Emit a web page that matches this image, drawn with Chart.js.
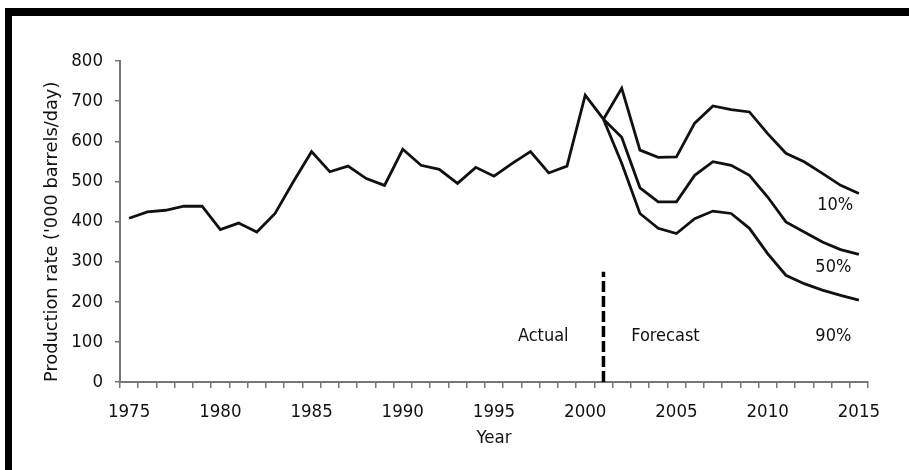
<!DOCTYPE html>
<html>
<head>
<meta charset="utf-8">
<title>Production rate forecast</title>
<script src="https://cdn.jsdelivr.net/npm/chart.js@4.4.1/dist/chart.umd.min.js"></script>
<style>
    html, body { margin: 0; padding: 0; background: #fff; }
    .frame { position: absolute; left: 0; top: 0; width: 909px; height: 470px; overflow: hidden; }
    .bar-top { position: absolute; left: 5px; top: 8px; width: 904px; height: 8px; background: #000; }
    .bar-left { position: absolute; left: 5px; top: 8px; width: 7px; height: 462px; background: #000; }
    #chart { position: absolute; left: 0; top: 0; }
</style>
</head>
<body>
<div class="frame">
    <canvas id="chart" width="909" height="470"></canvas>
    <div class="bar-top"></div>
    <div class="bar-left"></div>
</div>
<script>
// Data
const years = ['1975', '1976', '1977', '1978', '1979', '1980', '1981', '1982', '1983', '1984',
    '1985', '1986', '1987', '1988', '1989', '1990', '1991', '1992', '1993', '1994',
    '1995', '1996', '1997', '1998', '1999', '2000', '2001', '2002', '2003', '2004',
    '2005', '2006', '2007', '2008', '2009', '2010', '2011', '2012', '2013', '2014', '2015'];

// Actual production, 1975-2001
const actual = [408, 424, 428, 438, 438, 380, 396, 374, 420, 499,
    574, 524, 538, 507, 490, 580, 540, 530, 495, 535,
    513, 545, 574, 521, 538, 715, 655];

// Forecasts, 2001-2015
const forecast10 = [655, 732, 578, 560, 561, 645, 688, 679, 673, 619, 570, 549, 520, 490, 470];
const forecast50 = [655, 610, 484, 449, 449, 515, 549, 540, 515, 461, 399, 374, 349, 330, 318];
const forecast90 = [655, 545, 420, 383, 370, 407, 426, 420, 383, 320, 266, 245, 229, 216, 204];

const yTicks = [0, 100, 200, 300, 400, 500, 600, 700, 800];

// Text notes inside the plot (year position, value position)
const noteLabels = ['Actual', 'Forecast', '10%', '50%', '90%'];
const noteYears = [1997.7, 2004.4, 2013.7, 2013.6, 2013.6];
const noteValues = [114, 114, 440, 286, 114];

// Split between actual and forecast
const splitYear = '2001';
const splitTop = 275;

const narrowFont = "'DejaVu Sans Condensed', 'DejaVu Sans', sans-serif";
const wideFont = "'DejaVu Sans', Verdana, sans-serif";

/**
 * Pad a series with nulls so it lines up with the year categories
 */
function alignSeries(startYear, values) {
    const start = years.indexOf(startYear);
    const out = new Array(years.length).fill(null);
    values.forEach((v, i) => { out[start + i] = v; });
    return out;
}

const lineStyle = {
    borderColor: '#111',
    borderWidth: 2.8,
    pointRadius: 0,
    tension: 0,
    fill: false,
    spanGaps: false
};

const notesPlugin = {
    id: 'notes',
    afterDatasetsDraw(chart) {
        const ctx = chart.ctx;
        const x = chart.scales.x;
        const y = chart.scales.y;

        // dashed divider
        const px = x.getPixelForValue(years.indexOf(splitYear));
        ctx.save();
        ctx.strokeStyle = '#000';
        ctx.lineWidth = 3.5;
        ctx.setLineDash([11, 4]);
        ctx.beginPath();
        ctx.moveTo(px, y.getPixelForValue(0));
        ctx.lineTo(px, y.getPixelForValue(splitTop));
        ctx.stroke();
        ctx.restore();

        // labels
        ctx.save();
        ctx.fillStyle = '#111';
        ctx.font = '18px ' + narrowFont;
        ctx.textAlign = 'center';
        ctx.textBaseline = 'middle';
        noteLabels.forEach((text, i) => {
            const nx = x.getPixelForValue(noteYears[i] - 1975);
            const ny = y.getPixelForValue(noteValues[i]);
            ctx.fillText(text, nx, ny);
        });
        ctx.restore();
    }
};

Chart.defaults.font.family = narrowFont;
Chart.defaults.font.size = 18.5;
Chart.defaults.color = '#111';

new Chart(document.getElementById('chart'), {
    type: 'line',
    data: {
        labels: years,
        datasets: [
            Object.assign({ label: 'Actual', data: alignSeries('1975', actual) }, lineStyle),
            Object.assign({ label: '10%', data: alignSeries('2001', forecast10) }, lineStyle),
            Object.assign({ label: '50%', data: alignSeries('2001', forecast50) }, lineStyle),
            Object.assign({ label: '90%', data: alignSeries('2001', forecast90) }, lineStyle)
        ]
    },
    options: {
        responsive: false,
        animation: false,
        layout: {
            padding: { top: 61, right: 41, bottom: 0, left: 0 }
        },
        plugins: {
            legend: { display: false },
            tooltip: { enabled: false }
        },
        scales: {
            x: {
                type: 'category',
                offset: true,
                grid: {
                    offset: true,
                    drawOnChartArea: false,
                    drawTicks: true,
                    tickLength: 6,
                    color: '#777',
                    lineWidth: 1.5
                },
                border: { display: true, color: '#777', width: 2 },
                ticks: {
                    autoSkip: false,
                    maxRotation: 0,
                    padding: 13,
                    callback: function(value) {
                        const label = this.getLabelForValue(value);
                        return Number(label) % 5 === 0 ? label : '';
                    }
                },
                title: {
                    display: true,
                    text: 'Year',
                    padding: { top: 0, bottom: 21 }
                },
                afterFit: function(scale) { scale.height = 88; }
            },
            y: {
                min: 0,
                max: 800,
                afterBuildTicks: function(scale) {
                    scale.ticks = yTicks.map(v => ({ value: v }));
                },
                grid: {
                    drawOnChartArea: false,
                    drawTicks: true,
                    tickLength: 5,
                    color: '#777',
                    lineWidth: 1.5
                },
                border: { display: true, color: '#777', width: 2 },
                ticks: { padding: 12 },
                title: {
                    display: true,
                    align: 'start',
                    text: "Production rate ('000 barrels/day)",
                    font: { family: wideFont, size: 17.8 },
                    padding: { top: 42, bottom: 0 }
                },
                afterFit: function(scale) { scale.width = 120; }
            }
        }
    },
    plugins: [notesPlugin]
});
</script>
</body>
</html>
